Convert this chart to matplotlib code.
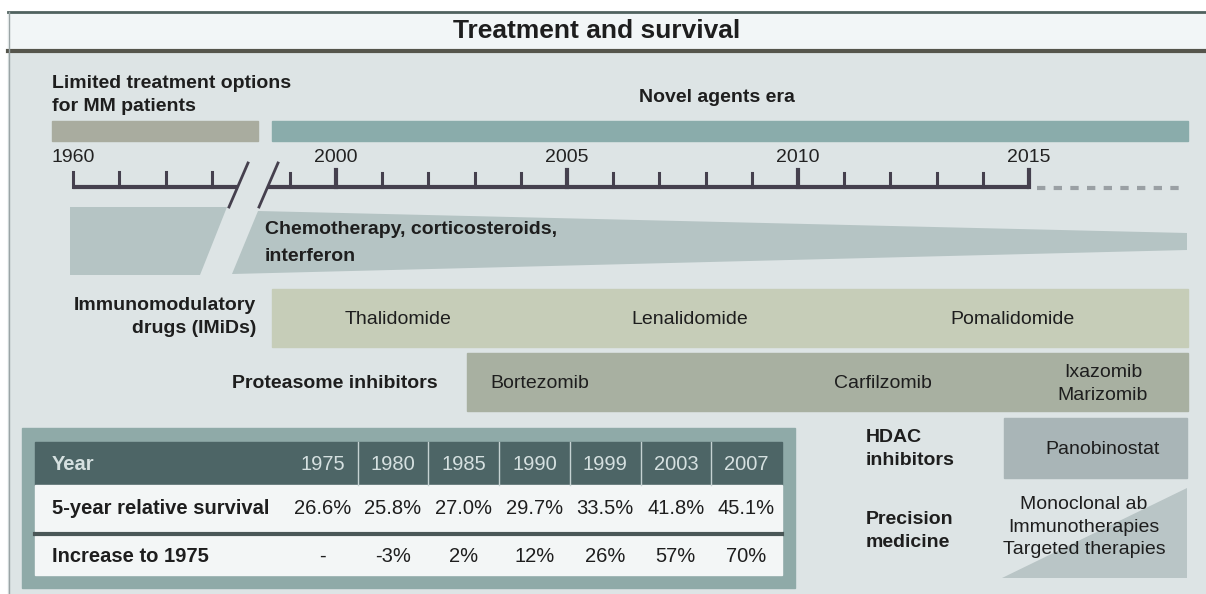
import matplotlib.pyplot as plt
from matplotlib.patches import Rectangle, Polygon

plt.rcParams['font.family'] = ['Liberation Sans', 'DejaVu Sans']

# data
title = 'Treatment and survival'
era_labels = ['Limited treatment options\nfor MM patients', 'Novel agents era']
old_ticks = [1960, 1970, 1980, 1990]
new_ticks = list(range(1999, 2016))
major_years = [2000, 2005, 2010, 2015]
chemo_label = 'Chemotherapy, corticosteroids,\ninterferon'
imid_drugs = ['Thalidomide', 'Lenalidomide', 'Pomalidomide']
pi_drugs = ['Bortezomib', 'Carfilzomib', 'Ixazomib\nMarizomib']
hdac_drugs = ['Panobinostat']
precision_drugs = ['Monoclonal ab\nImmunotherapies\nTargeted therapies']
surv_years = ['1975', '1980', '1985', '1990', '1999', '2003', '2007']
survival = [26.6, 25.8, 27.0, 29.7, 33.5, 41.8, 45.1]
increase = ['-', '-3%', '2%', '12%', '26%', '57%', '70%']

# layout (pixel canvas)
W, H = 1206, 594
BG = '#dde4e5'
DARK = '#45404e'
TXT = '#1e1e1e'
FS = 14


def x_old(y):
    return 73 + (y - 1960) / 10 * 46.3


def x_new(y):
    return 336 + (y - 2000) * 46.2


fig = plt.figure(figsize=(W / 100, H / 100), dpi=100)
ax = fig.add_axes([0, 0, 1, 1])
ax.set_xlim(0, W)
ax.set_ylim(H, 0)
ax.axis('off')

# frame and title band
ax.add_patch(Rectangle((8, 12), W - 8, H - 12, color=BG, zorder=0))
ax.add_patch(Rectangle((8, 12), W - 8, 38, color='#f2f6f7', zorder=0.5))
ax.plot([8, W], [12, 12], color='#50625f', lw=2)
ax.plot([8, W], [50.5, 50.5], color='#55554c', lw=3)
ax.plot([8.5, 8.5], [12, H], color='#9aa4a5', lw=1)
ax.text(597, 31, title, ha='center', va='center', fontsize=19, fontweight='bold', color=TXT)

# era bars
ax.text(52, 95, era_labels[0], ha='left', va='center', fontsize=FS, fontweight='bold',
        color=TXT, linespacing=1.45)
ax.text(717, 97, era_labels[1], ha='center', va='center', fontsize=FS, fontweight='bold', color=TXT)
ax.add_patch(Rectangle((52, 121), 206, 20, color='#a9ac9f'))
ax.add_patch(Rectangle((272, 121), 916, 20, color='#8aacab'))

# timeline
ax.plot([x_old(1960), 237], [187, 187], color=DARK, lw=3, solid_capstyle='butt')
for yr in old_ticks:
    ax.plot([x_old(yr)] * 2, [172, 187], color=DARK, lw=2.2)
ax.text(x_old(1960), 158, '1960', ha='center', va='center', fontsize=FS, color='#222222')
ax.plot([268, x_new(2015)], [187, 187], color=DARK, lw=3, solid_capstyle='butt')
for yr in new_ticks:
    major = yr in major_years
    ax.plot([x_new(yr)] * 2, [170 if major else 173, 187], color=DARK, lw=3 if major else 2.2)
for yr in major_years:
    ax.text(x_new(yr), 158, str(yr), ha='center', va='center', fontsize=FS, color='#222222')
ax.plot([x_new(2015) + 8, 1187], [188, 188], color='#9aa0a4', lw=3, ls=(0, (2, 2)))
for x0 in (248, 278):
    ax.plot([x0, x0 - 19], [163, 207], color=DARK, lw=2)

# chemotherapy wedge
ax.add_patch(Polygon([(70, 207), (227, 207), (200, 275), (70, 275)], color='#b5c4c4', lw=0))
ax.add_patch(Polygon([(258, 211), (1187, 233), (1187, 250), (232, 274)], color='#b5c4c4', lw=0))
ax.text(265, 243, chemo_label, ha='left', va='center', fontsize=FS, fontweight='bold',
        color=TXT, linespacing=1.7)

# IMiDs
ax.text(256, 317, 'Immunomodulatory\ndrugs (IMiDs)', ha='right', va='center', fontsize=FS,
        fontweight='bold', color=TXT, linespacing=1.47, multialignment='right')
ax.add_patch(Rectangle((272, 289), 916, 58, color='#c6cdb8'))
for name, xc in zip(imid_drugs, [398, 690, 1013]):
    ax.text(xc, 320, name, ha='center', va='center', fontsize=FS, color=TXT)

# proteasome inhibitors
ax.text(438, 383, 'Proteasome inhibitors', ha='right', va='center', fontsize=FS,
        fontweight='bold', color=TXT)
ax.add_patch(Rectangle((467, 353), 721, 58, color='#a8b0a1'))
for name, xc in zip(pi_drugs, [540, 883, 1103]):
    ax.text(xc, 384, name, ha='center', va='center', fontsize=FS, color=TXT, linespacing=1.41)

# HDAC and precision medicine
ax.text(866, 449, 'HDAC\ninhibitors', ha='left', va='center', fontsize=FS, fontweight='bold',
        color=TXT, linespacing=1.41)
ax.add_patch(Rectangle((1004, 418), 183, 60, color='#a9b5b7'))
ax.text(1103, 449, hdac_drugs[0], ha='center', va='center', fontsize=FS, color=TXT)
ax.text(866, 531, 'Precision\nmedicine', ha='left', va='center', fontsize=FS, fontweight='bold',
        color=TXT, linespacing=1.41)
ax.add_patch(Polygon([(1002, 578), (1187, 578), (1187, 488)], color='#b9c5c6', lw=0))
ax.text(1084, 527, precision_drugs[0], ha='center', va='center', fontsize=FS, color=TXT,
        linespacing=1.41)

# survival table
ax.add_patch(Rectangle((22, 428), 773, 160, color='#8faaa8'))
lab_x0, col0, colw = 35, 287, 70.7
right = col0 + colw * len(surv_years)
ax.add_patch(Rectangle((lab_x0, 442), right - lab_x0, 43, color='#4d6566'))
ax.add_patch(Rectangle((lab_x0, 485), right - lab_x0, 46, color='#f3f6f6'))
ax.add_patch(Rectangle((lab_x0, 536), right - lab_x0, 39, color='#f3f6f6'))
ax.plot([lab_x0, right], [533.5, 533.5], color='#4a5757', lw=3)
for i in range(1, len(surv_years)):
    xs = col0 + colw * i
    ax.plot([xs, xs], [442, 485], color='#c5d2d2', lw=1)
TFS = 14.5
ax.text(52, 464, 'Year', ha='left', va='center', fontsize=TFS, fontweight='bold', color='#d5e0e0')
ax.text(52, 508, '5-year relative survival', ha='left', va='center', fontsize=TFS, fontweight='bold',
        color=TXT)
ax.text(52, 556, 'Increase to 1975', ha='left', va='center', fontsize=TFS, fontweight='bold',
        color=TXT)
for i, (yr, sv, inc) in enumerate(zip(surv_years, survival, increase)):
    xc = col0 + colw * (i + 0.5)
    ax.text(xc, 464, yr, ha='center', va='center', fontsize=TFS, color='#d5e0e0')
    ax.text(xc, 508, f'{sv:.1f}%', ha='center', va='center', fontsize=TFS, color=TXT)
    ax.text(xc, 556, inc, ha='center', va='center', fontsize=TFS, color=TXT)

fig.savefig('out.png', dpi=100, facecolor='white')
